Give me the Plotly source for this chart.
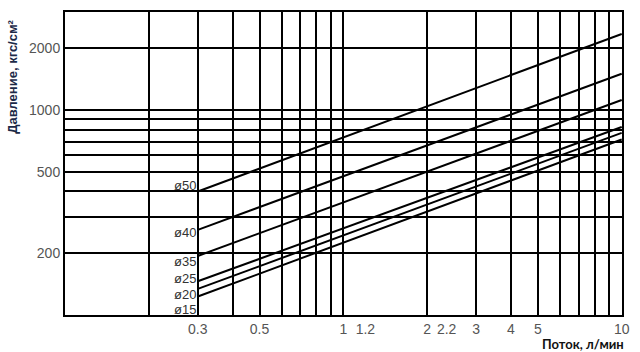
import math
import plotly.graph_objects as go

# Data (log-log): pressure vs flow for each diameter
diameters = ["ø50", "ø40", "ø35", "ø25", "ø20", "ø15"]
flow = [0.3, 10]
p_phi50 = [400, 2345]
p_phi40 = [260, 1500]
p_phi35 = [194, 1117]
p_phi25 = [146, 825]
p_phi20 = [134, 772]
p_phi15 = [123, 717]
series = [p_phi50, p_phi40, p_phi35, p_phi25, p_phi20, p_phi15]

x_tick_vals = [0.3, 0.5, 1, 1.2, 2, 2.35, 3, 4, 5, 10]
x_tick_text = ["0.3", "0.5", "1", "1.2", "2", "2.2", "3", "4", "5", "10"]
x_grid = [0.2, 0.3, 0.4, 0.5, 0.6, 0.7, 0.8, 0.9, 1, 2, 3, 4, 5, 6, 7, 8, 9]
y_tick_vals = [200, 500, 1000, 2000]
y_tick_text = ["200", "500", "1000", "2000"]
y_grid = [200, 300, 400, 500, 600, 700, 800, 900, 1000, 2000]

label_yshift = [6, -3, -6, 2.5, -5.5, -12.5]

fig = go.Figure()
for name, vals in zip(diameters, series):
    fig.add_trace(go.Scatter(x=flow, y=vals, mode="lines", name=name,
                             line=dict(color="black", width=2), showlegend=False,
                             hoverinfo="skip"))

for name, vals, ys in zip(diameters, series, label_yshift):
    fig.add_annotation(x=math.log10(flow[0]), y=math.log10(vals[0]), xref="x", yref="y",
                       text=name, showarrow=False, xanchor="right", yanchor="middle",
                       xshift=-1, yshift=ys, borderpad=0,
                       font=dict(family="Liberation Sans, Arial", size=13, color="#333"))

fig.add_annotation(x=-0.094, y=0.785, xref="paper", yref="paper",
                   text="<b>Давление, кгс/см²</b>", textangle=-90, showarrow=False,
                   font=dict(family="Liberation Sans, Arial", size=13, color="#1c2a48"),
                   xanchor="center", yanchor="middle")
fig.add_annotation(x=1.005, y=-0.096, xref="paper", yref="paper",
                   text="<b>Поток, л/мин</b>", showarrow=False, borderpad=0,
                   font=dict(family="Lato, Open Sans", size=13, color="#111"),
                   xanchor="right", yanchor="middle")

axis_common = dict(type="log", showgrid=False, showline=True, mirror=True,
                   linecolor="black", linewidth=2, ticks="", zeroline=False,
                   tickfont=dict(family="Liberation Sans, Arial", size=14, color="#555"))

fig.update_xaxes(**axis_common, range=[-1, 1.001], tickmode="array", tickangle=0,
                 tickvals=x_tick_vals, ticktext=x_tick_text,
                 minor=dict(tickmode="array", tickvals=x_grid, showgrid=True,
                            gridcolor="black", gridwidth=2, ticks=""))
fig.update_yaxes(**axis_common, range=[2, 3.477], tickmode="array",
                 tickvals=y_tick_vals, ticktext=y_tick_text,
                 minor=dict(tickmode="array", tickvals=y_grid, showgrid=True,
                            gridcolor="black", gridwidth=2, ticks=""))

fig.update_layout(width=640, height=352, margin=dict(l=65, r=13, t=10, b=37),
                  paper_bgcolor="white", plot_bgcolor="white")

fig.write_html("out.html")
